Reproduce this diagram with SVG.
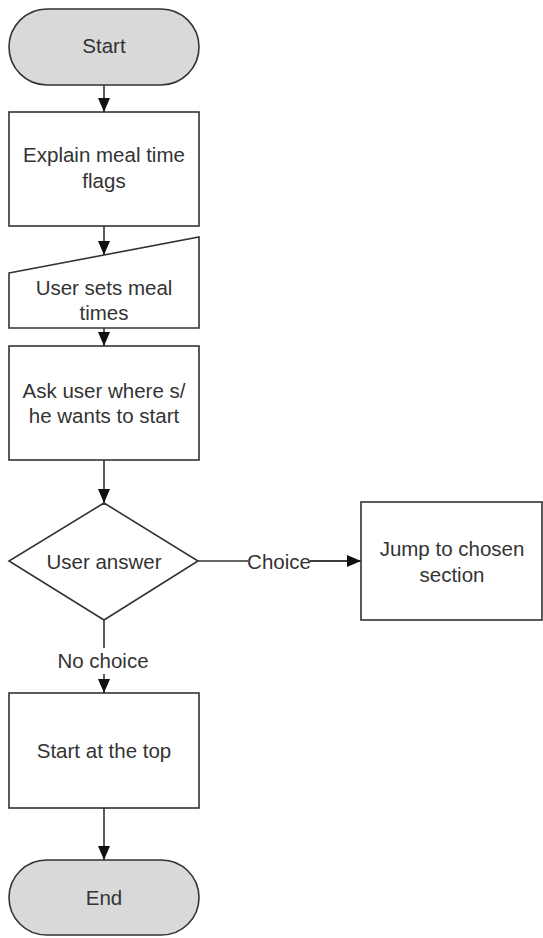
<svg xmlns="http://www.w3.org/2000/svg" width="543" height="938" viewBox="0 0 543 938">
  <style>
    .shape { fill: #ffffff; stroke: #333333; stroke-width: 1.6; }
    .term { fill: #d9d9d9; stroke: #333333; stroke-width: 1.6; }
    .label { font-family: "Liberation Sans", Arial, sans-serif; font-size: 20.5px; fill: #333333; text-anchor: middle; dominant-baseline: central; }
    .edge { fill: none; stroke: #333333; stroke-width: 1.6; }
  </style>
  <defs>
    <marker id="arrow" markerUnits="userSpaceOnUse" markerWidth="14" markerHeight="12" refX="14" refY="6" orient="auto">
      <path d="M0,0 L14,6 L0,12 Z" fill="#111111"/>
    </marker>
  </defs>
  <rect width="543" height="938" fill="#ffffff"/>

  <!-- connectors -->
  <g id="connectors">
    <path class="edge" d="M104,85 V112" marker-end="url(#arrow)"/>
    <path class="edge" d="M104,226 V255" marker-end="url(#arrow)"/>
    <path class="edge" d="M104,328 V346" marker-end="url(#arrow)"/>
    <path class="edge" d="M104,460 V503" marker-end="url(#arrow)"/>
    <path class="edge" d="M198,561 H248 M310,561 H361" />
    <path class="edge" d="M310,561 H361" marker-end="url(#arrow)"/>
    <text class="label" x="279" y="561">Choice</text>
    <path class="edge" d="M104,620 V648" />
    <path class="edge" d="M104,674 V693" marker-end="url(#arrow)"/>
    <text class="label" x="103" y="660">No choice</text>
    <path class="edge" d="M104,808 V860" marker-end="url(#arrow)"/>
  </g>

  <g id="start">
    <rect class="term" x="9" y="9" width="190" height="76" rx="38" ry="38"/>
    <text class="label" x="104" y="45">Start</text>
  </g>

  <g id="explain">
    <rect class="shape" x="9" y="112" width="190" height="114"/>
    <text class="label" x="104" y="154">Explain meal time</text>
    <text class="label" x="104" y="180">flags</text>
  </g>

  <g id="input">
    <path class="shape" d="M9,273 L199,237 V328 H9 Z"/>
    <text class="label" x="104" y="287">User sets meal</text>
    <text class="label" x="104" y="312">times</text>
  </g>

  <g id="ask">
    <rect class="shape" x="9" y="346" width="190" height="114"/>
    <text class="label" x="104" y="390">Ask user where s/</text>
    <text class="label" x="104" y="415">he wants to start</text>
  </g>

  <g id="decision">
    <path class="shape" d="M104,503 L198,561 L104,620 L9,561 Z"/>
    <text class="label" x="104" y="561">User answer</text>
  </g>

  <g id="jump">
    <rect class="shape" x="361" y="502" width="181" height="118"/>
    <text class="label" x="452" y="548">Jump to chosen</text>
    <text class="label" x="452" y="574">section</text>
  </g>

  <g id="top">
    <rect class="shape" x="9" y="693" width="190" height="115"/>
    <text class="label" x="104" y="750">Start at the top</text>
  </g>

  <g id="end">
    <rect class="term" x="9" y="860" width="190" height="75" rx="37.5" ry="37.5"/>
    <text class="label" x="104" y="897">End</text>
  </g>
</svg>
